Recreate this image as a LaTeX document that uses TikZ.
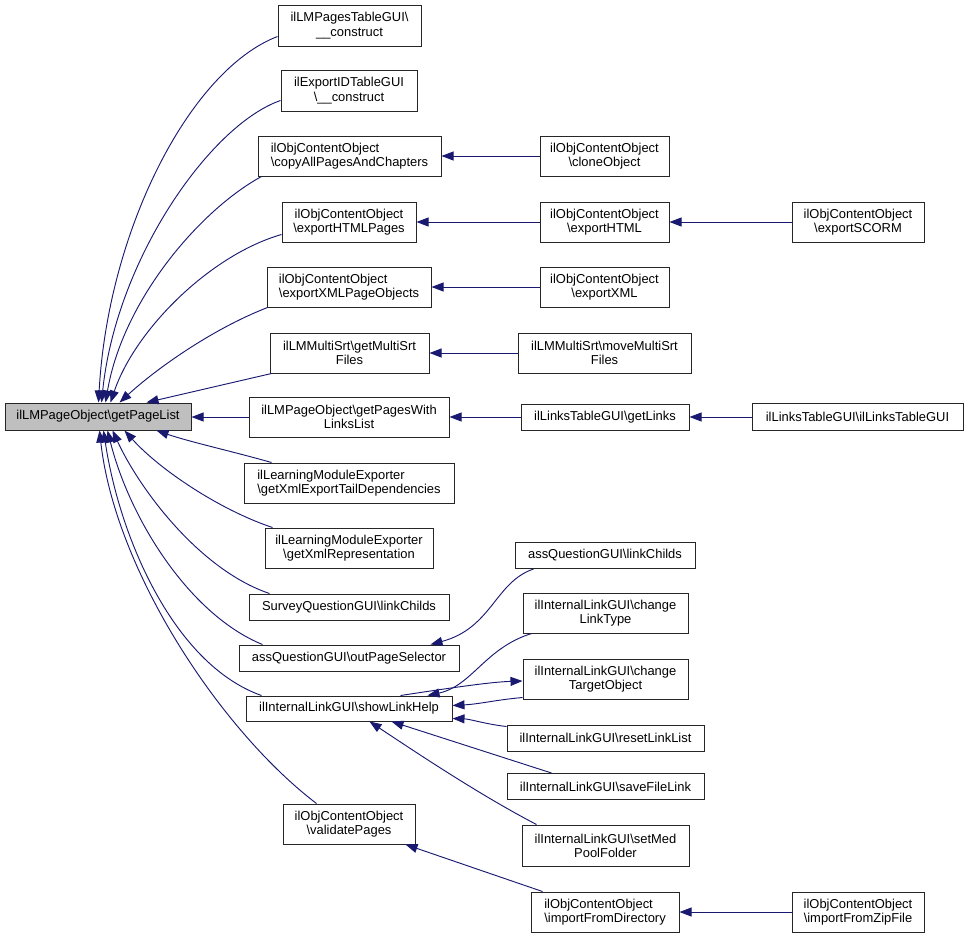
\documentclass[tikz,border=0pt]{standalone}
\usepackage{fontspec}
\setmainfont{Liberation Sans}
\usetikzlibrary{arrows.meta,calc}
\definecolor{edgeblue}{RGB}{25,25,112}
\definecolor{maingray}{RGB}{191,191,191}
\newcommand{\BSx}{\textbackslash}
\tikzset{
 box/.style={draw=black!85, line width=0.75pt, fill=white, inner sep=0pt, align=center, font=\fontsize{9.7}{10.7}\selectfont},
 sz/.style 2 args={minimum width=#1*0.75pt, minimum height=#2*0.75pt},
 edge/.style={draw=edgeblue, line width=0.7pt, -{Triangle[length=9pt,width=6.75pt]}}
}
\begin{document}
\begin{tikzpicture}[x=0.75pt,y=-0.75pt]
\useasboundingbox (0,0) rectangle (969,939);

% main node
\node[box, sz={186}{27}, fill=maingray] (main) at (98,416.5) {ilLMPageObject\BSx getPageList};

% column 2
\node[box, sz={143}{41}] (n1) at (349.5,25.5) {ilLMPagesTableGUI\BSx\\\_\_construct};
\node[box, sz={136}{41}] (n2) at (349,90.5) {ilExportIDTableGUI\\\BSx\_\_construct};
\node[box, sz={183}{40}, align=left] (n3) at (349.5,156) {ilObjContentObject\\\BSx copyAllPagesAndChapters};
\node[box, sz={134}{40}] (n4) at (349,222) {ilObjContentObject\\\BSx exportHTMLPages};
\node[box, sz={164}{40}, align=left] (n5) at (349,287) {ilObjContentObject\\\BSx exportXMLPageObjects};
\node[box, sz={159}{40}] (n6) at (349.5,353) {ilLMMultiSrt\BSx getMultiSrt\\Files};
\node[box, sz={200}{40}] (n7) at (349,417) {ilLMPageObject\BSx getPagesWith\\LinksList};
\node[box, sz={210}{40}, align=left] (n8) at (349,483) {ilLearningModuleExporter\\\BSx getXmlExportTailDependencies};
\node[box, sz={168}{40}] (n9) at (349,548) {ilLearningModuleExporter\\\BSx getXmlRepresentation};
\node[box, sz={200}{26}] (n10) at (349,607) {SurveyQuestionGUI\BSx linkChilds};
\node[box, sz={220}{26}] (n11) at (349,658) {assQuestionGUI\BSx outPageSelector};
\node[box, sz={206}{25}] (n12) at (349,708.5) {ilInternalLinkGUI\BSx showLinkHelp};
\node[box, sz={132}{40}] (n13) at (349,824) {ilObjContentObject\\\BSx validatePages};

% column 3
\node[box, sz={129}{40}] (clone) at (604.5,156) {ilObjContentObject\\\BSx cloneObject};
\node[box, sz={129}{40}] (exhtml) at (604.5,222) {ilObjContentObject\\\BSx exportHTML};
\node[box, sz={129}{40}] (exxml) at (604.5,287) {ilObjContentObject\\\BSx exportXML};
\node[box, sz={173}{40}] (movems) at (604.5,353) {ilLMMultiSrt\BSx moveMultiSrt\\Files};
\node[box, sz={168}{26}] (getlinks) at (605,417) {ilLinksTableGUI\BSx getLinks};
\node[box, sz={180}{26}] (lchilds) at (605,555.5) {assQuestionGUI\BSx linkChilds};
\node[box, sz={165}{40}] (clt) at (605.5,613) {ilInternalLinkGUI\BSx change\\LinkType};
\node[box, sz={165}{40}] (cto) at (605.5,679) {ilInternalLinkGUI\BSx change\\TargetObject};
\node[box, sz={197}{26}] (rll) at (605.5,738) {ilInternalLinkGUI\BSx resetLinkList};
\node[box, sz={197}{26}] (sfl) at (605.5,786.5) {ilInternalLinkGUI\BSx saveFileLink};
\node[box, sz={167}{41}] (smp) at (605.5,845.5) {ilInternalLinkGUI\BSx setMed\\PoolFolder};
\node[box, sz={148}{40}, align=left] (ifd) at (605,912) {ilObjContentObject\\\BSx importFromDirectory};

% column 4
\node[box, sz={132}{40}] (scorm) at (858,222) {ilObjContentObject\\\BSx exportSCORM};
\node[box, sz={211}{27}] (ltg) at (857.5,417) {ilLinksTableGUI\BSx ilLinksTableGUI};
\node[box, sz={132}{40}] (zip) at (858,912) {ilObjContentObject\\\BSx importFromZipFile};

% edges into main (top)
\draw[edge] ($(n1.south west)+(0,-10)$) .. controls (190,70) and (108,230) .. ($(main.north west)+(94,0)$);
\draw[edge] ($(n2.south west)+(0,-11)$) .. controls (210,125) and (116,260) .. ($(main.north west)+(97,0)$);
\draw[edge] ($(n3.south west)+(4,0)$) .. controls (200,210) and (123,300) .. ($(main.north west)+(101,0)$);
\draw[edge] ($(n4.south west)+(0,-8)$) .. controls (210,255) and (135,330) .. ($(main.north west)+(106,0)$);
\draw[edge] ($(n5.south west)+(1,0)$) .. controls (210,330) and (155,370) .. ($(main.north west)+(115,0)$);
\draw[edge] ($(n6.south west)+(2,0)$) -- ($(main.north west)+(142,0)$);
\draw[edge] (n7.west) -- (n7.west -| main.east);
% edges into main (bottom)
\draw[edge] ($(n8.north west)+(28,0)$) .. controls (235,452) and (190,442) .. ($(main.south west)+(152,0)$);
\draw[edge] ($(n9.north west)+(8,0)$) .. controls (220,510) and (160,470) .. ($(main.south west)+(120,0)$);
\draw[edge] ($(n10.north west)+(21,0)$) .. controls (200,570) and (140,490) .. ($(main.south west)+(108,0)$);
\draw[edge] ($(n11.north west)+(24,0)$) .. controls (190,615) and (130,520) .. ($(main.south west)+(103,0)$);
\draw[edge] ($(n12.north west)+(16,0)$) .. controls (175,665) and (120,540) .. ($(main.south west)+(99,0)$);
\draw[edge] ($(n13.north west)+(34,0)$) .. controls (220,730) and (115,570) .. ($(main.south west)+(95,0)$);

% straight horizontal edges
\draw[edge] (clone.west) -- (n3.east);
\draw[edge] (exhtml.west) -- (n4.east);
\draw[edge] (exxml.west) -- (n5.east);
\draw[edge] (movems.west) -- (n6.east);
\draw[edge] (getlinks.west) -- (n7.east);
\draw[edge] (scorm.west) -- (exhtml.east);
\draw[edge] (ltg.west) -- (getlinks.east);
\draw[edge] (zip.west) -- (ifd.east);

% other edges
\draw[edge] ($(lchilds.south west)+(19,0)$) .. controls (495,582) and (492,628) .. ($(n11.north east)+(-29,0)$);
\draw[edge] ($(clt.south west)+(9,0)$) .. controls (485,648) and (472,686) .. ($(n12.north east)+(-25,0)$);
\draw[edge] ($(n12.north east)+(-52,0)$) .. controls (450,688) and (490,682) .. ($(cto.west)+(0,2)$);
\draw[edge] ($(cto.south west)+(0,-2)$) .. controls (495,700) and (480,704) .. ($(n12.east)+(0,-3)$);
\draw[edge] ($(rll.north west)+(0,2)$) .. controls (485,724) and (470,719) .. ($(n12.south east)+(0,-3)$);
\draw[edge] ($(sfl.north west)+(45,0)$) -- ($(n12.south west)+(146,0)$);
\draw[edge] ($(smp.north west)+(15,0)$) .. controls (480,795) and (420,755) .. ($(n12.south west)+(124,0)$);
\draw[edge] ($(ifd.north west)+(12,0)$) -- ($(n13.south east)+(-10,0)$);
\end{tikzpicture}
\end{document}
